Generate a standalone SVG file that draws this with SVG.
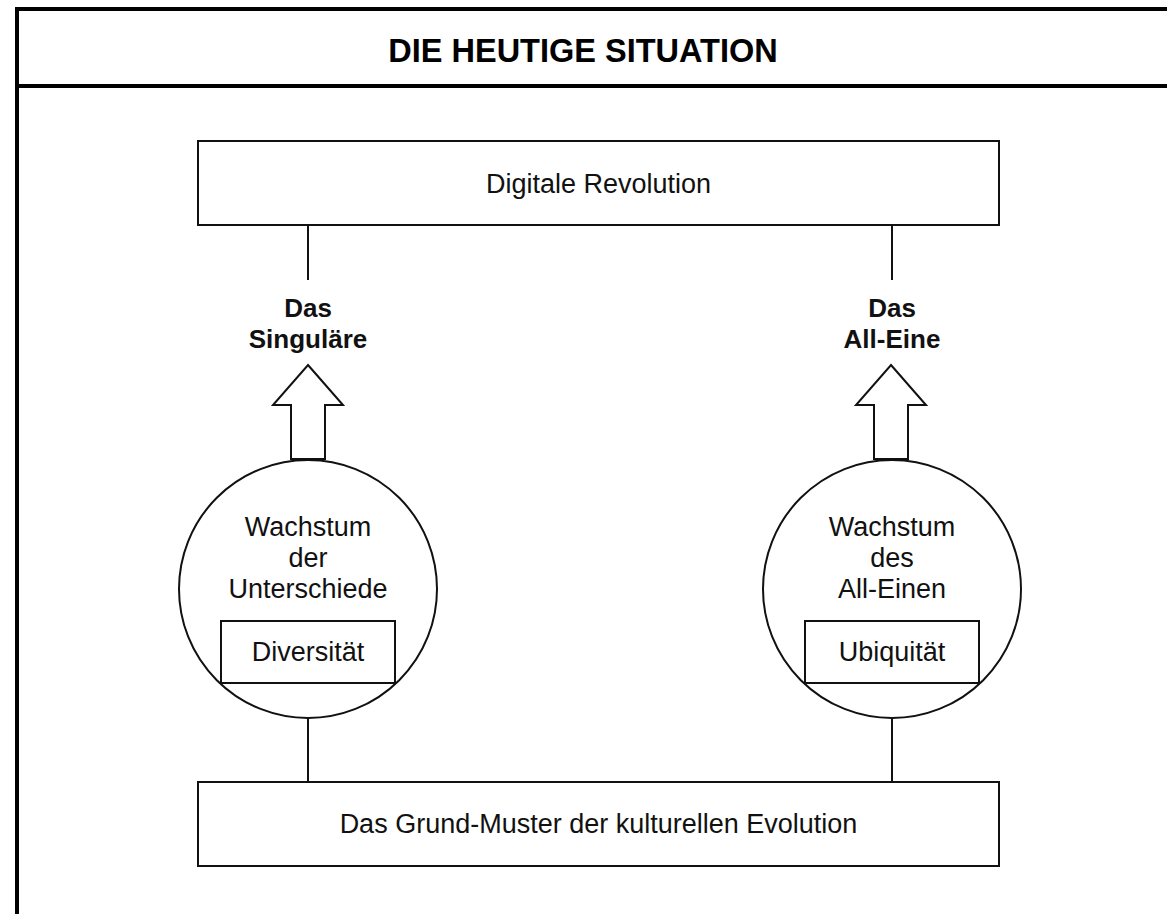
<svg xmlns="http://www.w3.org/2000/svg" width="1167" height="914" viewBox="0 0 1167 914">
  <style>
    .frame { fill: none; stroke: #000; stroke-width: 4; }
    .box { fill: #fff; stroke: #111; stroke-width: 2; }
    .circ { fill: #fff; stroke: #111; stroke-width: 2; }
    .conn { fill: none; stroke: #111; stroke-width: 2; }
    .arrow { fill: #fff; stroke: #111; stroke-width: 2; stroke-linejoin: miter; }
    .t { font-family: "Liberation Sans", Arial, Helvetica, sans-serif; font-size: 27px; fill: #111; text-anchor: middle; }
    .b { font-weight: bold; font-size: 26px; }
    .title { font-family: "Liberation Sans", Arial, Helvetica, sans-serif; font-weight: bold; font-size: 32.5px; fill: #000; text-anchor: middle; }
  </style>
  <rect x="0" y="0" width="1167" height="914" fill="#fff"/>
  <g id="frame">
    <line class="frame" x1="17" y1="9" x2="1167" y2="9"/>
    <line class="frame" x1="17" y1="86" x2="1167" y2="86"/>
    <line class="frame" x1="17" y1="7" x2="17" y2="914"/>
    <text class="title" x="583" y="62">DIE HEUTIGE SITUATION</text>
  </g>
  <g id="connectors">
    <line class="conn" x1="308" y1="225" x2="308" y2="280"/>
    <line class="conn" x1="892" y1="225" x2="892" y2="280"/>
    <line class="conn" x1="308" y1="718" x2="308" y2="782"/>
    <line class="conn" x1="892" y1="718" x2="892" y2="782"/>
    <polygon class="arrow" points="308,365 343,405 325,405 325,459 291,459 291,405 273,405"/>
    <polygon class="arrow" points="891,365 926,405 908,405 908,459 874,459 874,405 856,405"/>
  </g>
  <g id="digitale-revolution">
    <rect class="box" x="198" y="141" width="801" height="84"/>
    <text class="t" x="598.5" y="193">Digitale Revolution</text>
  </g>
  <g id="das-singulaere">
    <text class="t b" x="308" y="317">Das</text>
    <text class="t b" x="308" y="348">Singuläre</text>
  </g>
  <g id="das-all-eine">
    <text class="t b" x="892" y="317">Das</text>
    <text class="t b" x="892" y="348">All-Eine</text>
  </g>
  <g id="wachstum-unterschiede">
    <circle class="circ" cx="308" cy="589" r="129"/>
    <text class="t" x="308" y="536">Wachstum</text>
    <text class="t" x="308" y="567">der</text>
    <text class="t" x="308" y="598">Unterschiede</text>
    <rect class="box" x="221" y="621" width="174" height="62"/>
    <text class="t" x="308" y="661">Diversität</text>
  </g>
  <g id="wachstum-all-einen">
    <circle class="circ" cx="892" cy="589" r="129"/>
    <text class="t" x="892" y="536">Wachstum</text>
    <text class="t" x="892" y="567">des</text>
    <text class="t" x="892" y="598">All-Einen</text>
    <rect class="box" x="805" y="621" width="174" height="62"/>
    <text class="t" x="892" y="661">Ubiquität</text>
  </g>
  <g id="grundmuster">
    <rect class="box" x="198" y="782" width="801" height="84"/>
    <text class="t" x="598.5" y="833">Das Grund-Muster der kulturellen Evolution</text>
  </g>
</svg>
